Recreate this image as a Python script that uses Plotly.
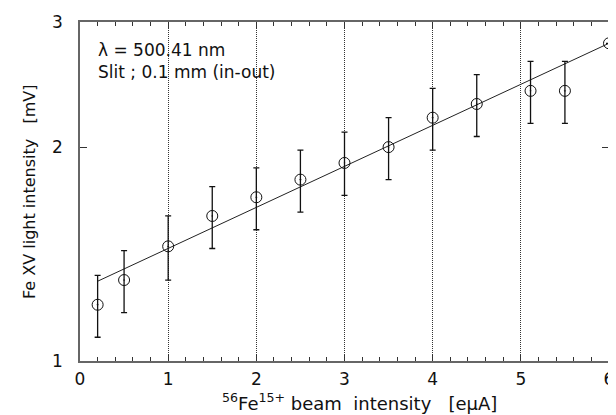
import math
import plotly.graph_objects as go

# data
beam_x = [0.2, 0.5, 1.0, 1.5, 2.0, 2.5, 3.0, 3.5, 4.0, 4.5, 5.11, 5.5, 6.0]
light_y = [1.20, 1.30, 1.45, 1.60, 1.70, 1.80, 1.90, 2.00, 2.20, 2.30, 2.40, 2.40, 2.80]
# the error bar of the last point is hidden on the frame edge in the reference
err_hi = [1.32, 1.43, 1.60, 1.76, 1.87, 1.98, 2.10, 2.20, 2.42, 2.53, 2.64, 2.64, None]
err_lo = [1.08, 1.17, 1.30, 1.44, 1.53, 1.62, 1.71, 1.80, 1.98, 2.07, 2.16, 2.16, None]
fit_x = [0.2, 6.0]
fit_y = [1.295, 2.80]

x_ticks = [0, 1, 2, 3, 4, 5, 6]
y_ticks = [1, 2, 3]

plus = [None if h is None else h - v for h, v in zip(err_hi, light_y)]
minus = [None if l is None else v - l for v, l in zip(light_y, err_lo)]

FONT = "DejaVu Sans"
NB = "\u00a0"

fig = go.Figure()
fig.add_trace(go.Scatter(
    x=fit_x, y=fit_y, mode="lines",
    line=dict(color="#222", width=1), showlegend=False, hoverinfo="skip"))
fig.add_trace(go.Scatter(
    x=beam_x, y=light_y, mode="markers",
    marker=dict(symbol="circle-open-dot", size=11, color="#111",
                line=dict(width=1, color="#111")),
    error_y=dict(type="data", symmetric=False, array=plus, arrayminus=minus,
                 color="#111", thickness=1.3, width=3),
    showlegend=False, cliponaxis=False))

# annotations on a log axis take log10 positions
fig.add_annotation(x=0.18, y=math.log10(2.74), xref="x", yref="y", text="λ = 500.41 nm",
                   showarrow=False, xanchor="left", yanchor="middle",
                   font=dict(family=FONT, size=17, color="#111"))
fig.add_annotation(x=0.18, y=math.log10(2.55), xref="x", yref="y", text="Slit ; 0.1 mm (in-out)",
                   showarrow=False, xanchor="left", yanchor="middle",
                   font=dict(family=FONT, size=17, color="#111"))

# axis titles
fig.add_annotation(x=(362 - 80) / 534, y=-41 / 339, xref="paper", yref="paper",
                   text=f"<sup>56</sup>Fe<sup>15+</sup> beam{NB} intensity{NB}{NB} [eμA]",
                   showarrow=False, xanchor="center", yanchor="middle",
                   font=dict(family=FONT, size=18, color="#111"))
fig.add_annotation(x=-51 / 534, y=0.5, xref="paper", yref="paper",
                   text=f"Fe XV light intensity{NB}{NB} [mV]", textangle=-90,
                   showarrow=False, xanchor="center", yanchor="middle",
                   font=dict(family=FONT, size=16, color="#111"))

# the page body has an 8px margin, so the figure is 8px smaller
fig.update_layout(
    width=608, height=407,
    margin=dict(l=72, r=2, t=14, b=54),
    paper_bgcolor="white", plot_bgcolor="white",
    font=dict(family=FONT, color="#111"),
    xaxis=dict(
        range=[0, 6], tickvals=x_ticks, ticktext=[str(v) for v in x_ticks],
        ticks="inside", ticklen=7, tickcolor="#333", tickwidth=1,
        showline=True, linecolor="#666", linewidth=1.5, mirror="ticks",
        showgrid=True, gridcolor="#333", griddash="1px,1px", gridwidth=1,
        minor=dict(dtick=0.2, tick0=0, ticks="inside", ticklen=4,
                   tickcolor="#333", showgrid=False),
        zeroline=False, tickfont=dict(size=17), ticklabeloverflow="allow",
        ticklabelstandoff=2,
    ),
    yaxis=dict(
        type="log", range=[0, 0.47712125472], tickvals=y_ticks,
        ticktext=[str(v) for v in y_ticks],
        ticks="inside", ticklen=7, tickcolor="#333", tickwidth=1,
        showline=True, linecolor="#666", linewidth=1.5, mirror="ticks",
        showgrid=False, zeroline=False, tickfont=dict(size=17),
        ticklabelstandoff=12, ticklabeloverflow="allow",
    ),
)

fig.write_html("out.html")
